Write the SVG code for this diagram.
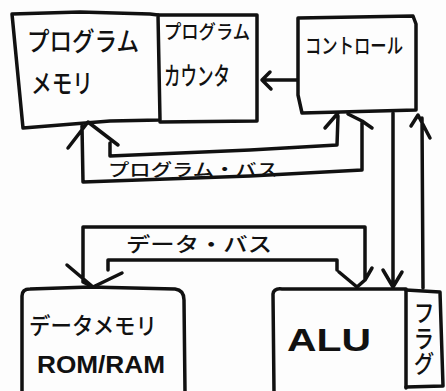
<svg xmlns="http://www.w3.org/2000/svg" width="446" height="391" viewBox="0 0 446 391">
<style>
.bx{fill:none;stroke:#111;stroke-width:3.5;stroke-linejoin:round;stroke-linecap:round}
.ln{fill:none;stroke:#111;stroke-width:3.5;stroke-linejoin:round;stroke-linecap:round}
.t{font-family:"Noto Sans CJK JP","Noto Sans",sans-serif;fill:#111;font-weight:500}
.r{font-family:"Liberation Sans","Noto Sans",sans-serif;fill:#111;font-weight:bold}
</style>
<rect width="446" height="391" fill="#fdfdfd"/>
<g id="program-memory">
<path class="bx" d="M12,14 L80,12 L150,14 L158,15 L160,120 L110,121 L23,128 Z"/>
<text class="t" x="27" y="51" font-size="26" textLength="112" lengthAdjust="spacingAndGlyphs">プログラム</text>
<text class="t" x="31" y="93" font-size="26" textLength="62" lengthAdjust="spacingAndGlyphs">メモリ</text>
</g>
<g id="program-counter">
<path class="bx" d="M158,15 L257,15 L257,121 L160,122"/>
<text class="t" x="164" y="39" font-size="19" textLength="86" lengthAdjust="spacingAndGlyphs">プログラム</text>
<text class="t" x="164" y="85" font-size="25" textLength="66" lengthAdjust="spacingAndGlyphs">カウンタ</text>
</g>
<g id="control">
<path class="bx" d="M298,18 L413,16 L416,24 L416,110 L302,113 L298,95 Z"/>
<text class="t" x="305" y="53" font-size="21" textLength="98" lengthAdjust="spacingAndGlyphs">コントロール</text>
</g>
<g id="data-memory">
<path class="bx" d="M22,392 L22,296 Q22,289 30,289 L90,287 L175,289 Q184,290 184,300 L185,392"/>
<text class="t" x="29" y="334" font-size="23" textLength="128" lengthAdjust="spacingAndGlyphs">データメモリ</text>
<text class="r" x="37" y="373" font-size="23" textLength="128" lengthAdjust="spacingAndGlyphs">ROM/RAM</text>
</g>
<g id="alu">
<path class="bx" d="M274,392 L273,294 Q274,288 282,289 L406,289 L406,388"/>
<text class="r" x="287" y="351" font-size="31" textLength="84" lengthAdjust="spacingAndGlyphs">ALU</text>
</g>
<g id="flag">
<path class="bx" d="M406,290 L440,292 L443,386 L406,387"/>
<text class="t" x="424" y="300" font-size="21" writing-mode="tb" font-weight="bold" textLength="76" lengthAdjust="spacingAndGlyphs">フラグ</text>
</g>
<g id="connectors">
<path class="ln" d="M297,80 L262,80 M270,72 L262,80 L271,89"/>
<path class="ln" d="M83,182 L82,126 M68,148 L88,122 L118,145 M110,143 L110,156 L250,150 L337,145 L338,116 M325,128 L338,113 M362,170 L362,121 M348,114 L362,121 L372,128 M83,182 L250,176 L362,170"/>
<text class="t" x="108" y="176" font-size="17" textLength="170" lengthAdjust="spacingAndGlyphs">プログラム・バス</text>
<path class="ln" d="M93,287 L83,282 L83,227 L365,227 L365,280 L357,287 M67,265 L93,287 L122,273 M108,270 L108,260 L337,260 L337,270 M339,272 L357,287 L365,280 L372,268"/>
<text class="t" x="126" y="252" font-size="20" textLength="146" lengthAdjust="spacingAndGlyphs">データ・バス</text>
<path class="ln" d="M393,113 L393,286 M383,270 L393,287 L402,272"/>
<path class="ln" d="M423,288 L422,118 M411,126 L418,115 L430,138"/>
</g>
</svg>
